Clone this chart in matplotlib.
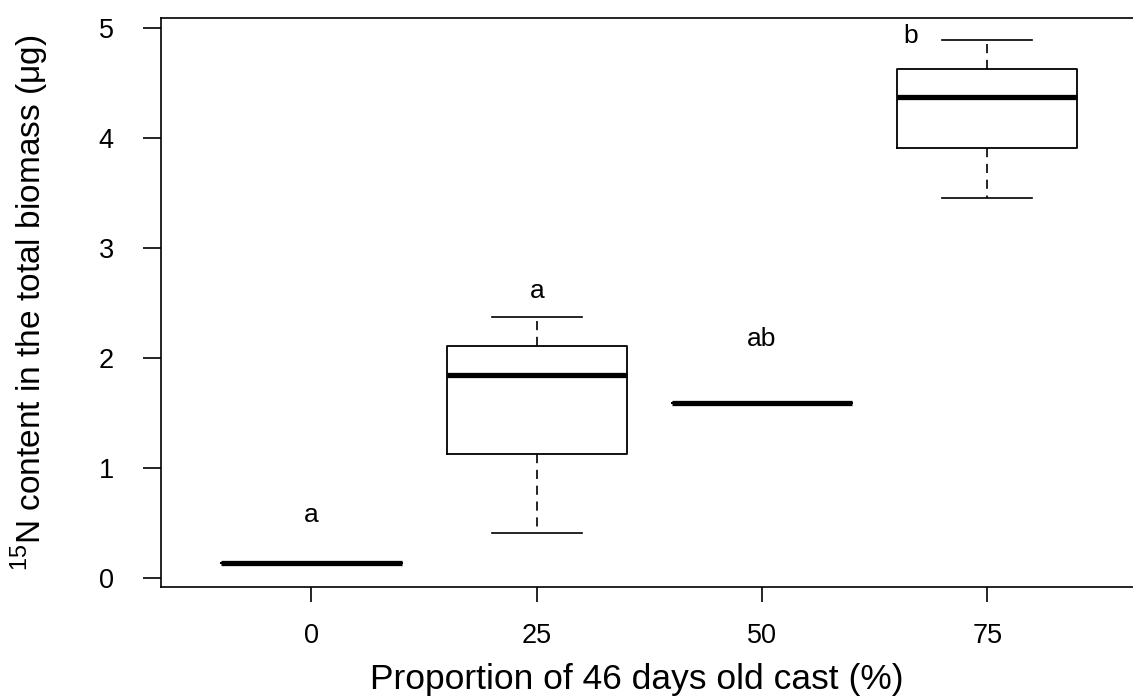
import matplotlib
matplotlib.use("Agg")
import matplotlib.pyplot as plt

plt.rcParams['font.family'] = ['Liberation Sans', 'DejaVu Sans']
plt.rcParams['mathtext.fontset'] = 'custom'
plt.rcParams['mathtext.rm'] = 'Liberation Sans'

groups = [0, 25, 50, 75]
whislo = [0.14, 0.41, 1.59, 3.45]
q1 = [0.14, 1.13, 1.59, 3.91]
med = [0.14, 1.85, 1.59, 4.37]
q3 = [0.14, 2.11, 1.59, 4.63]
whishi = [0.14, 2.37, 1.59, 4.89]
letters = ['a', 'a', 'ab', 'b']
letter_x = [0, 25, 50, 66.5]
letter_y = [0.57, 2.61, 2.17, 4.93]

fig = plt.figure(figsize=(11.33, 7), dpi=100)
ax = fig.add_axes([161 / 1133, 113 / 700, 975 / 1133, 569 / 700])

stats = []
for i in range(len(groups)):
    stats.append(dict(med=med[i], q1=q1[i], q3=q3[i],
                      whislo=whislo[i], whishi=whishi[i], fliers=[]))

ax.bxp(stats, positions=groups, widths=20, showfliers=False,
       boxprops=dict(color='black', linewidth=1.3),
       medianprops=dict(color='black', linewidth=3.8, solid_capstyle='butt'),
       whiskerprops=dict(color='black', linewidth=1.2, linestyle=(0, (5.5, 4))),
       capprops=dict(color='black', linewidth=1.2),
       capwidths=10)

for x, y, t in zip(letter_x, letter_y, letters):
    ax.text(x, y, t, ha='center', va='center', fontsize=19)

ax.set_xlim(-16.7, 91.5)
ax.set_ylim(-0.08, 5.09)
ax.set_xticks(groups)
ax.set_xticklabels([str(g) for g in groups])
ax.set_yticks([0, 1, 2, 3, 4, 5])
ax.spines['right'].set_visible(False)
for s in ['left', 'bottom', 'top']:
    ax.spines[s].set_linewidth(1.2)
ax.tick_params(axis='x', length=11, width=1.2, pad=15, labelsize=19.5)
ax.tick_params(axis='y', length=13, width=1.2, pad=21, labelsize=19.5)

fig.text(637 / 1133, 1 - 680 / 700, 'Proportion of 46 days old cast (%)',
         ha='center', va='center', fontsize=25.5)
fig.text(30 / 1133, 1 - 303 / 700, r'$^{15}$N content in the total biomass (μg)',
         ha='center', va='center', rotation=90, fontsize=24)

fig.savefig('out.png', dpi=100)
